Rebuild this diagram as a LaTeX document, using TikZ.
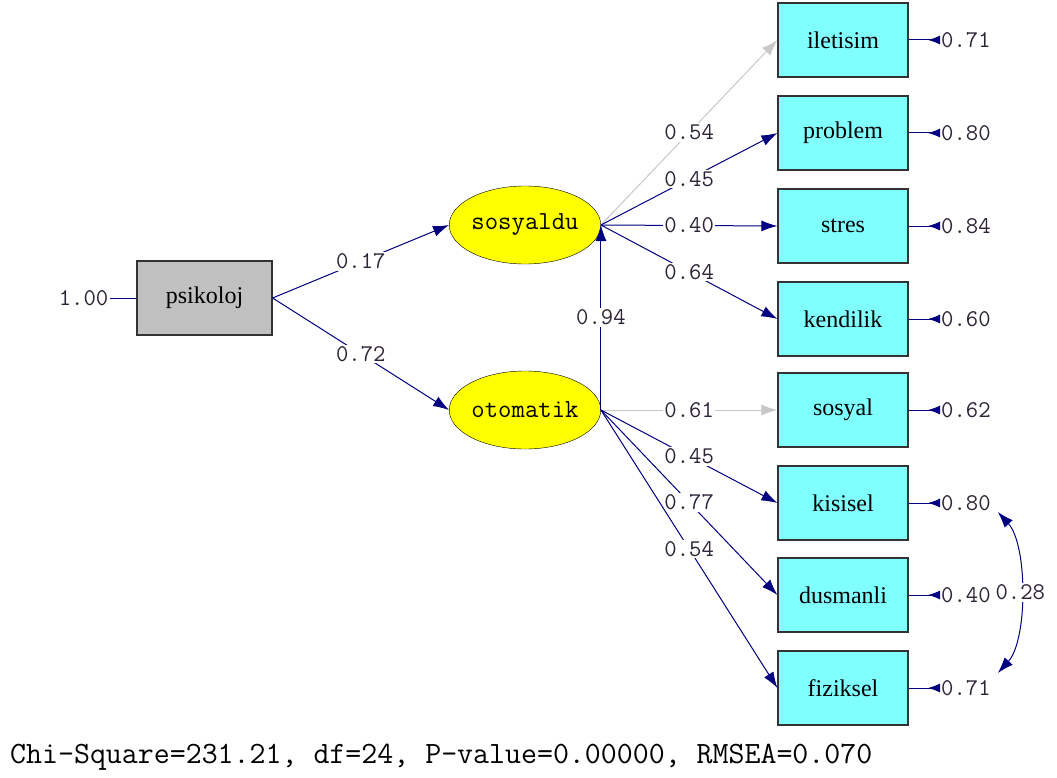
\documentclass[tikz,border=0pt]{standalone}
\usepackage{fontspec}
\setmainfont{Liberation Serif}
\usepackage{tikz}
\usetikzlibrary{arrows.meta,positioning,shapes.geometric}
\usepackage{xcolor}
\definecolor{navy}{RGB}{0,0,128}
\definecolor{obscyan}{RGB}{128,255,255}
\definecolor{latyellow}{RGB}{255,255,0}
\definecolor{pathgray}{RGB}{200,200,200}
\definecolor{boxgray}{RGB}{192,192,192}
\definecolor{numtext}{RGB}{45,35,55}

\begin{document}
\begin{tikzpicture}[x=1pt, y=-1pt,
  obs/.style={draw=black!80, line width=1.2pt, fill=obscyan, minimum width=130pt, minimum height=74pt, inner sep=0pt, font=\fontsize{24}{26}\selectfont},
  latent/.style={ellipse, draw, fill=latyellow, minimum width=134pt, minimum height=78pt, inner sep=0pt, font=\ttfamily\fontsize{26}{28}\selectfont},
  arrow/.style={-{Latex[length=16pt, width=11pt]}, navy, line width=1pt},
  grayarrow/.style={arrow, pathgray},
  errarrow/.style={{Latex[reversed, length=12pt, width=9pt]}-, navy, line width=1pt},
  corr/.style={{Latex[length=16pt, width=11pt]}-{Latex[length=16pt, width=11pt]}, navy, line width=1pt},
  coef/.style={font=\ttfamily\fontsize{24}{26}\selectfont, text=numtext, fill=white, inner sep=1.5pt},
  errlbl/.style={font=\ttfamily\fontsize{24}{26}\selectfont, text=numtext, inner sep=1pt, anchor=west},
]
  \useasboundingbox (0,0) rectangle (1057,778);
  \fill[white] (0,0) rectangle (1057,778);

  % Latent and exogenous variables
  \node[obs, fill=boxgray, minimum width=135pt] (psikoloj) at (204.5,298) {psikoloj};
  \node[latent] (sosyaldu) at (525,225) {sosyaldu};
  \node[latent] (otomatik) at (525,410) {otomatik};

  % Observed variables
  \node[obs] (iletisim) at (843,40) {iletisim};
  \node[obs] (problem) at (843,133) {problem};
  \node[obs] (stres) at (843,226) {stres};
  \node[obs] (kendilik) at (843,319) {kendilik};
  \node[obs] (sosyal) at (843,410) {sosyal};
  \node[obs] (kisisel) at (843,503) {kisisel};
  \node[obs] (dusmanli) at (843,595) {dusmanli};
  \node[obs] (fiziksel) at (843,688) {fiziksel};

  % Error variances
  \node[coef, anchor=east] (err0) at (110,298) {1.00};
  \node[errlbl] (e1) at (940,40) {0.71};
  \node[errlbl] (e2) at (940,133) {0.80};
  \node[errlbl] (e3) at (940,226) {0.84};
  \node[errlbl] (e4) at (940,319) {0.60};
  \node[errlbl] (e5) at (940,410) {0.62};
  \node[errlbl] (e6) at (940,503) {0.80};
  \node[errlbl] (e7) at (940,595) {0.40};
  \node[errlbl] (e8) at (940,688) {0.71};

  % Structural paths
  \draw[navy, line width=1pt] (err0) -- (psikoloj);
  \draw[arrow] (psikoloj.east) -- (sosyaldu.west) node[midway, coef] {0.17};
  \draw[arrow] (psikoloj.east) -- (otomatik.west) node[midway, coef] {0.72};
  \draw[arrow] (otomatik.east) -- (sosyaldu.east) node[midway, coef] {0.94};

  % Loadings
  \draw[grayarrow] (sosyaldu.east) -- (iletisim.west) node[midway, coef] {0.54};
  \draw[arrow] (sosyaldu.east) -- (problem.west) node[midway, coef] {0.45};
  \draw[arrow] (sosyaldu.east) -- (stres.west) node[midway, coef] {0.40};
  \draw[arrow] (sosyaldu.east) -- (kendilik.west) node[midway, coef] {0.64};
  \draw[grayarrow] (otomatik.east) -- (sosyal.west) node[midway, coef] {0.61};
  \draw[arrow] (otomatik.east) -- (kisisel.west) node[midway, coef] {0.45};
  \draw[arrow] (otomatik.east) -- (dusmanli.west) node[midway, coef] {0.77};
  \draw[arrow] (otomatik.east) -- (fiziksel.west) node[midway, coef] {0.54};

  % Errors
  \foreach \e/\v in {e1/iletisim, e2/problem, e3/stres, e4/kendilik, e5/sosyal, e6/kisisel, e7/dusmanli, e8/fiziksel}
    \draw[errarrow] (\e.west) -- (\v.east);

  % Error covariance
  \draw[corr] ([xshift=6pt, yshift=-9pt]e6.east) .. controls +(30,33) and +(30,-33) .. ([xshift=6pt, yshift=15pt]e8.east)
    node[pos=0.5, coef] {0.28};

  % Fit statistics
  \node[anchor=west, font=\ttfamily\fontsize{31}{33}\selectfont, inner sep=0pt] (fit) at (10,757) {Chi-Square=231.21, df=24, P-value=0.00000, RMSEA=0.070};
\end{tikzpicture}
\end{document}
